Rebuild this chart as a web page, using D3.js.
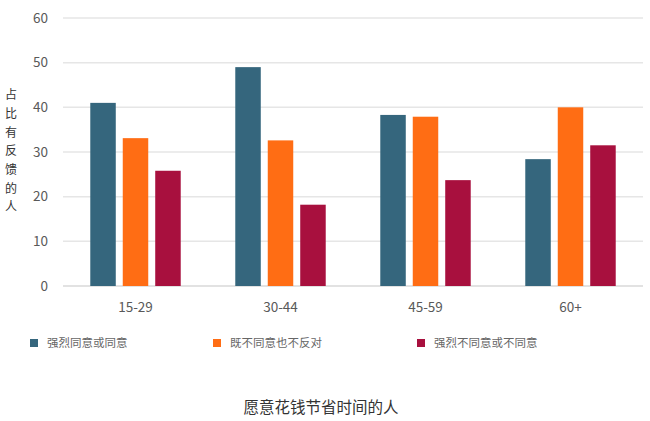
<!DOCTYPE html>
<html>
<head>
<meta charset="utf-8">
<script src="https://cdn.jsdelivr.net/npm/d3@7"></script>
<style>
  body { margin: 0; background: #fff; }
  svg { display: block; font-family: "Noto Sans CJK SC", "Open Sans", sans-serif; }
</style>
</head>
<body>
<div id="chart"></div>
<script>
const ageGroups   = ['15-29', '30-44', '45-59', '60+'];
const seriesNames = ['强烈同意或同意', '既不同意也不反对', '强烈不同意或不同意'];
const agreeVals   = [41.0, 49.0, 38.3, 28.4];
const neutralVals = [33.1, 32.6, 37.9, 40.0];
const disagreeVals = [25.8, 18.2, 23.7, 31.5];
const yTicks      = [0, 10, 20, 30, 40, 50, 60];
const yTitle      = '占比有反馈的人';
const chartTitle  = '愿意花钱节省时间的人';

const colors = ['#35667d', '#ff6d14', '#a8103e'];
const seriesVals = [agreeVals, neutralVals, disagreeVals];

const width  = 650;
const height = 421;

const svg = d3.select('#chart').append('svg')
    .attr('width', width)
    .attr('height', height);

const x0 = d3.scaleBand()
    .domain(ageGroups)
    .range([63, 643]);

const x1 = d3.scaleBand()
    .domain(seriesNames)
    .range([0, x0.bandwidth()])
    .paddingInner(0.215)
    .paddingOuter(0.84);

const y = d3.scaleLinear()
    .domain([0, 60])
    .range([286, 18]);

// gridlines
svg.append('g')
    .selectAll('line')
    .data(yTicks)
    .join('line')
        .attr('x1', 63)
        .attr('x2', 643)
        .attr('y1', d => y(d))
        .attr('y2', d => y(d))
        .attr('stroke', d => d === 0 ? '#d9d9d9' : '#e6e6e6')
        .attr('stroke-width', 1.5);

// y tick labels
svg.append('g')
    .selectAll('text')
    .data(yTicks)
    .join('text')
        .attr('x', 48)
        .attr('y', d => y(d))
        .attr('dy', '0.35em')
        .attr('text-anchor', 'end')
        .attr('fill', '#595959')
        .style('font-size', '13.5px')
        .text(d => d);

// bars
const groups = svg.append('g')
    .selectAll('g')
    .data(ageGroups)
    .join('g')
        .attr('transform', d => `translate(${x0(d)},0)`);

groups.selectAll('rect')
    .data((d, i) => seriesNames.map((s, j) => ({ s, v: seriesVals[j][i], c: colors[j] })))
    .join('rect')
        .attr('x', d => x1(d.s))
        .attr('y', d => y(d.v))
        .attr('width', x1.bandwidth())
        .attr('height', d => y(0) - y(d.v))
        .attr('fill', d => d.c);

// x labels
svg.append('g')
    .selectAll('text')
    .data(ageGroups)
    .join('text')
        .attr('x', d => x0(d) + x0.bandwidth() / 2)
        .attr('y', 307)
        .attr('dy', '0.35em')
        .attr('text-anchor', 'middle')
        .attr('fill', '#595959')
        .style('font-size', '13.5px')
        .text(d => d);

// vertical y title
svg.append('g')
    .selectAll('text')
    .data(yTitle.split(''))
    .join('text')
        .attr('x', 11)
        .attr('y', (d, i) => 95 + i * 18.7)
        .attr('dy', '0.35em')
        .attr('text-anchor', 'middle')
        .attr('fill', '#333')
        .style('font-size', '12px')
        .text(d => d);

// legend
const legendX = [30, 213, 417];
const legend = svg.append('g')
    .selectAll('g')
    .data(seriesNames)
    .join('g')
        .attr('transform', (d, i) => `translate(${legendX[i]},343)`);

legend.append('rect')
    .attr('x', 0)
    .attr('y', -4)
    .attr('width', 8)
    .attr('height', 8)
    .attr('fill', (d, i) => colors[i]);

legend.append('text')
    .attr('x', 17)
    .attr('dy', '0.35em')
    .attr('fill', '#666')
    .style('font-size', '11.5px')
    .text(d => d);

// title
svg.append('text')
    .attr('x', 321)
    .attr('y', 408)
    .attr('dy', '0.35em')
    .attr('text-anchor', 'middle')
    .attr('fill', '#333')
    .style('font-size', '15.5px')
    .text(chartTitle);
</script>
</body>
</html>
